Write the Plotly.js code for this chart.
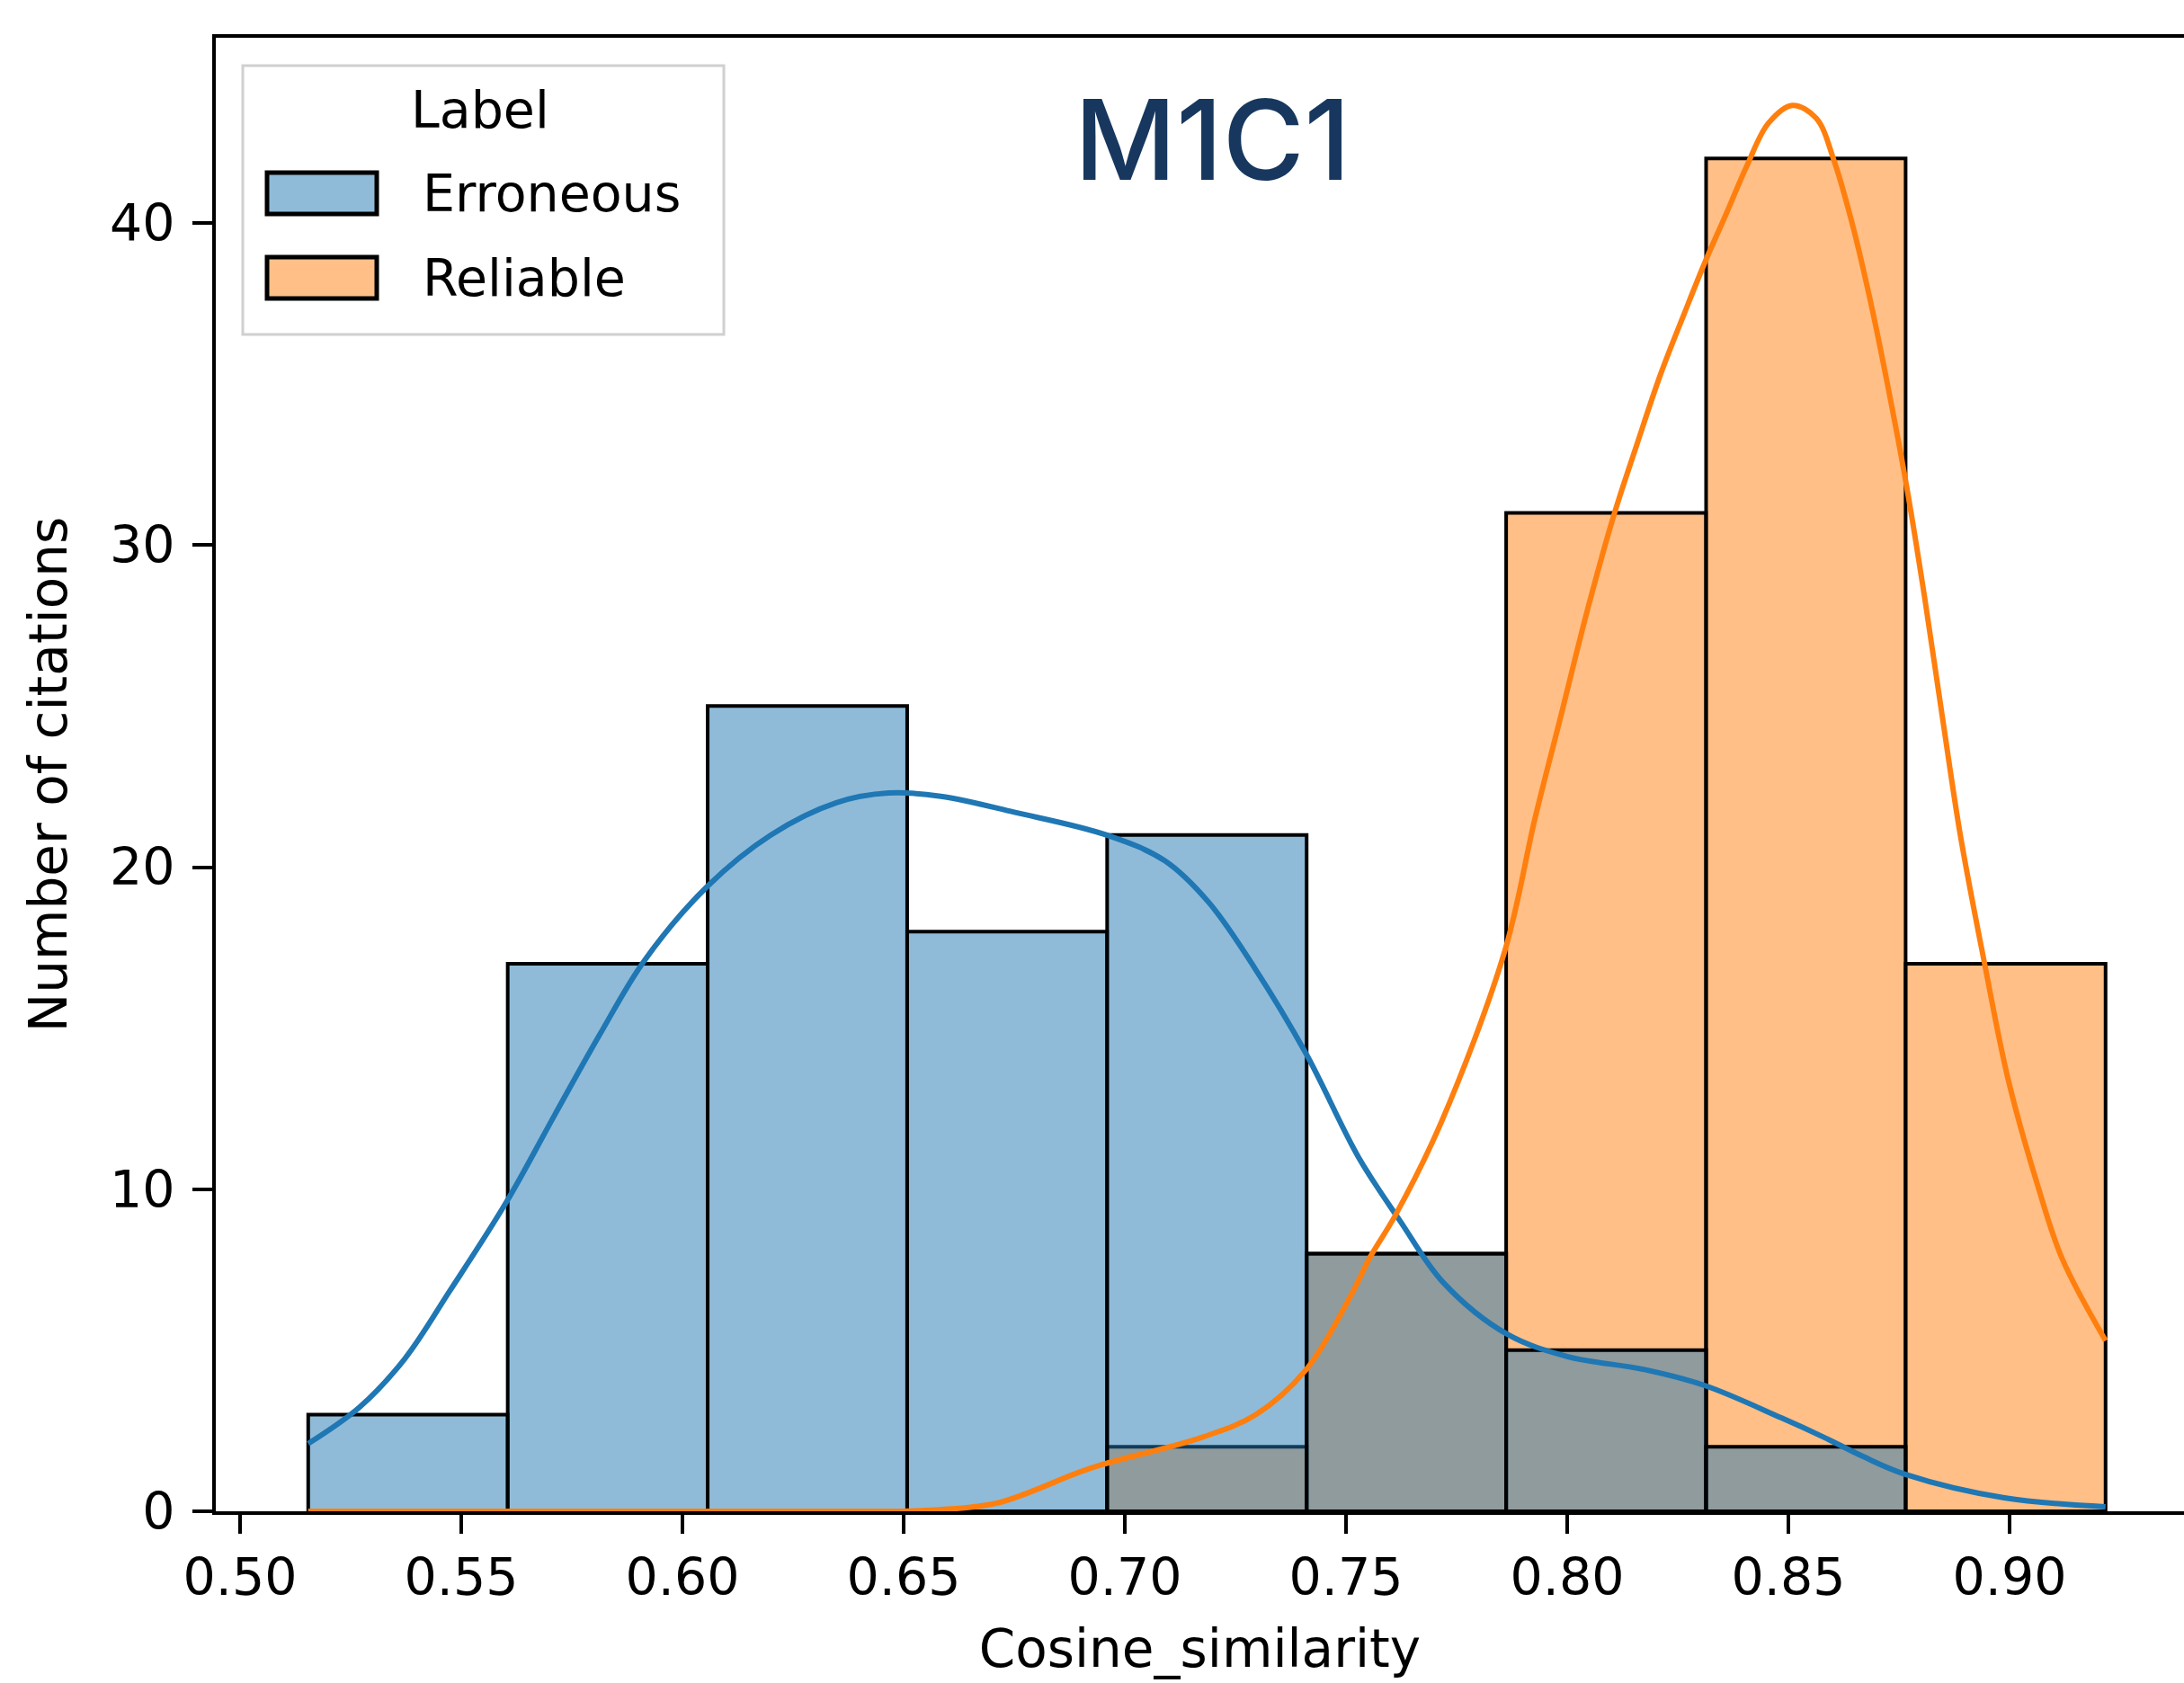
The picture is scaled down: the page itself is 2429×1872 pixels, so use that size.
<!DOCTYPE html>
<html>
<head>
<meta charset="utf-8">
<script src="https://cdn.plot.ly/plotly-3.0.1.min.js"></script>
<style>html,body{margin:0;padding:0;background:#fff;}#chart{width:2429px;height:1872px;}</style>
</head>
<body>
<div id="chart"></div>
<script>
// ---- data ----
const seriesNames = ["Erroneous", "Reliable"];
const legendTitle = "Label";
const chartTitle = "M1C1";
const xTitle = "Cosine_similarity";
const yTitle = "Number of citations";

const binEdges = [0.5154, 0.5605, 0.6057, 0.6508, 0.6960, 0.7411, 0.7862, 0.8314, 0.8765, 0.9217];
const erroneousCounts = [3, 17, 25, 18, 21, 8, 5, 2, 0];
const reliableCounts  = [0, 0, 0, 0, 2, 8, 31, 42, 17];

const erroneousKdeX = [0.5154, 0.5270, 0.5372, 0.5474, 0.5602, 0.5711, 0.5813, 0.5914, 0.6056, 0.6200, 0.6348, 0.6466, 0.6584, 0.6752, 0.6958, 0.7090, 0.7190, 0.7292, 0.7410, 0.7528, 0.7623, 0.7720, 0.7864, 0.8002, 0.8175, 0.8312, 0.8484, 0.8580, 0.8669, 0.8764, 0.8988, 0.9217];
const erroneousKdeY = [2.1, 3.23, 4.73, 6.84, 9.6, 12.3, 14.8, 17.1, 19.4, 21.0, 22.0, 22.3, 22.2, 21.7, 21.0, 20.2, 18.9, 16.9, 14.2, 11.0, 9.0, 7.1, 5.5, 4.8, 4.4, 3.9, 2.9, 2.3, 1.7, 1.15, 0.42, 0.14];

const reliableKdeX = [0.5154, 0.5600, 0.6000, 0.6400, 0.6550, 0.6710, 0.6896, 0.6951, 0.7175, 0.7296, 0.7410, 0.7511, 0.7554, 0.7612, 0.7716, 0.7859, 0.7927, 0.7984, 0.8048, 0.8106, 0.8157, 0.8211, 0.8265, 0.8312, 0.8360, 0.8407, 0.8455, 0.8509, 0.8563, 0.8604, 0.8645, 0.8685, 0.8726, 0.8767, 0.8808, 0.8848, 0.8889, 0.8943, 0.8997, 0.9065, 0.9119, 0.9217];
const reliableKdeY = [0, 0, 0, 0, 0.03, 0.25, 1.21, 1.46, 2.3, 3.0, 4.4, 6.7, 7.88, 9.2, 12.1, 17.4, 21.5, 24.6, 28.1, 30.95, 33.1, 35.3, 37.2, 38.8, 40.3, 41.8, 43.1, 43.65, 43.25, 41.9, 39.94, 37.6, 34.85, 31.84, 28.37, 24.67, 20.97, 17.04, 13.4, 10.05, 7.84, 5.3];

const xTickVals = [0.50, 0.55, 0.60, 0.65, 0.70, 0.75, 0.80, 0.85, 0.90];
const yTickVals = [0, 10, 20, 30, 40];

// ---- styling ----
const blue = "#1f77b4", orange = "#ff7f0e";
const blueFill = "rgba(31,119,180,0.5)", orangeFill = "rgba(255,127,14,0.5)";
const FONT = "DejaVu Sans, sans-serif";
const FS = 57;

const centers = binEdges.slice(0, -1).map((e, i) => (e + binEdges[i + 1]) / 2);
const widths = binEdges.slice(0, -1).map((e, i) => binEdges[i + 1] - e);

const traces = [
  {type: "bar", name: seriesNames[1], x: centers, y: reliableCounts, width: widths,
   marker: {color: orangeFill, line: {color: "#000", width: 4}}, showlegend: false, hoverinfo: "skip"},
  {type: "bar", name: seriesNames[0], x: centers, y: erroneousCounts, width: widths,
   marker: {color: blueFill, line: {color: "#000", width: 4}}, showlegend: false, hoverinfo: "skip"},
  {type: "scatter", mode: "lines", x: erroneousKdeX, y: erroneousKdeY,
   line: {color: blue, width: 6, shape: "spline", smoothing: 1}, showlegend: false, hoverinfo: "skip"},
  {type: "scatter", mode: "lines", x: reliableKdeX, y: reliableKdeY,
   line: {color: orange, width: 6, shape: "spline", smoothing: 1}, showlegend: false, hoverinfo: "skip"}
];

// plot area geometry (pixels)
const L = 240, T = 42, R = 2429, B = 1681, W = 2429, H = 1872;
const px = v => (v - L) / (R - L);
const py = v => (B - v) / (B - T);

const shapes = [
  {type: "rect", xref: "paper", yref: "paper", x0: px(270), x1: px(805), y0: py(372), y1: py(73),
   line: {color: "#d0d0d0", width: 3}, fillcolor: "rgba(255,255,255,0.8)", layer: "above"},
  {type: "rect", xref: "paper", yref: "paper", x0: px(297), x1: px(419), y0: py(238), y1: py(192),
   line: {color: "#000", width: 5}, fillcolor: blueFill, layer: "above"},
  {type: "rect", xref: "paper", yref: "paper", x0: px(297), x1: px(419), y0: py(332), y1: py(286),
   line: {color: "#000", width: 5}, fillcolor: orangeFill, layer: "above"}
];

const annotations = [
  {text: legendTitle, xref: "paper", yref: "paper", x: px(534), y: py(122), xanchor: "center", yanchor: "middle",
   showarrow: false, font: {family: FONT, size: FS, color: "#000"}},
  {text: seriesNames[0], xref: "paper", yref: "paper", x: px(468), y: py(215), xanchor: "left", yanchor: "middle",
   showarrow: false, font: {family: FONT, size: FS, color: "#000"}},
  {text: seriesNames[1], xref: "paper", yref: "paper", x: px(468), y: py(309), xanchor: "left", yanchor: "middle",
   showarrow: false, font: {family: FONT, size: FS, color: "#000"}},
  {text: chartTitle, xref: "paper", yref: "paper", x: px(1348), y: py(155), xanchor: "center", yanchor: "middle",
   showarrow: false, font: {family: "Inter, Lato, sans-serif", size: 124, color: "#17375e", weight: 500}}
];

const layout = {
  width: W, height: H,
  margin: {l: L, r: W - R, t: T, b: H - B, pad: 0},
  paper_bgcolor: "#fff", plot_bgcolor: "#fff",
  barmode: "overlay", bargap: 0,
  font: {family: FONT, size: FS, color: "#000"},
  xaxis: {
    range: [0.49451, 0.93943], autorange: false,
    tickvals: xTickVals, ticktext: xTickVals.map(v => v.toFixed(2)),
    ticks: "outside", ticklen: 21, tickwidth: 4, tickcolor: "#000",
    showline: true, linecolor: "#000", linewidth: 4, mirror: true,
    showgrid: false, zeroline: false, automargin: false,
    tickfont: {family: FONT, size: FS, color: "#000"},
    title: {text: xTitle, font: {family: FONT, size: 58, color: "#000"}, standoff: 28}
  },
  yaxis: {
    range: [0, 45.75], autorange: false,
    tickvals: yTickVals, ticktext: yTickVals.map(String),
    ticks: "outside", ticklen: 22, tickwidth: 4, tickcolor: "#000",
    showline: true, linecolor: "#000", linewidth: 4, mirror: false,
    showgrid: false, zeroline: false, automargin: false,
    ticklabelstandoff: 8,
    tickfont: {family: FONT, size: FS, color: "#000"},
    title: {text: yTitle, font: {family: FONT, size: 58, color: "#000"}, standoff: 30}
  },
  shapes: shapes,
  annotations: annotations,
  showlegend: false
};

Plotly.newPlot("chart", traces, layout, {displayModeBar: false, staticPlot: true});
</script>
</body>
</html>
